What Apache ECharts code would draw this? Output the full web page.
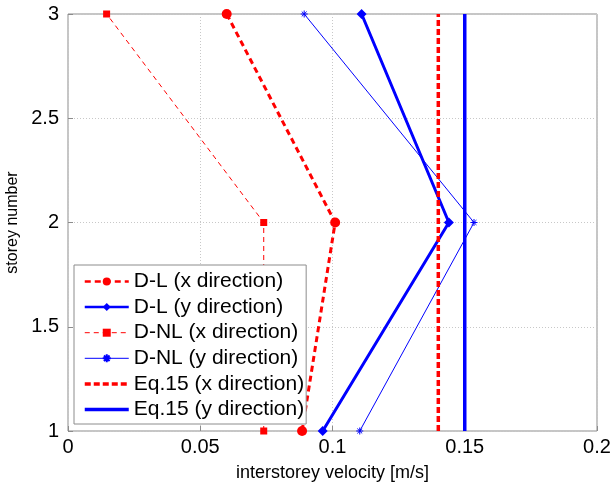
<!DOCTYPE html>
<html>
<head>
<meta charset="utf-8">
<script src="https://cdn.jsdelivr.net/npm/echarts@6/dist/echarts.min.js"></script>
<style>
  html, body { margin: 0; padding: 0; background: #fff; }
  #main { width: 614px; height: 482px; }
</style>
</head>
<body>
<div id="main"></div>
<script>
// storey levels and velocities
var storeys = [1, 2, 3]
var dlX = [0.0885, 0.101, 0.060]
var dlY = [0.0963, 0.144, 0.111]
var dnlX = [0.074, 0.074, 0.0146]
var dnlY = [0.1103, 0.1535, 0.0893]
var eqX = [0.14, 0.14, 0.14]
var eqY = [0.15, 0.15, 0.15]

var RED = '#ff0000'
var BLUE = '#0000ff'
var FONT = 'Liberation Sans'
var asterisk = 'path://M0 5L10 5M5 0L5 10M1.5 1.5L8.5 8.5M8.5 1.5L1.5 8.5'

function pts(xs){
  return xs.map(function(v, i){ return [v, storeys[i]] })
}

function mk(name, xs, color, width, dash, symbol, size){
  var s = {
    name: name,
    type: 'line',
    data: pts(xs),
    lineStyle: { color: color, width: width, type: dash },
    itemStyle: { color: color },
    symbol: symbol || 'none',
    symbolSize: size || 0,
    showSymbol: !!symbol,
    animation: false,
    z: 3
  }
  if (symbol === asterisk) {
    s.itemStyle = { color: 'none', borderColor: color, borderWidth: 1 }
  }
  if (!symbol) {
    // no marker: keep legend icon a plain line
    s.itemStyle = { color: 'rgba(0,0,0,0)', borderWidth: 0 }
  }
  return s
}

var chart = echarts.init(document.getElementById('main'), null, { renderer: 'canvas' })

var axisCommon = {
  axisLine: { show: false },
  axisTick: { show: true, inside: true, length: 5, lineStyle: { color: '#8c8c8c' } },
  splitLine: { show: true, lineStyle: { color: '#c8c8c8', type: [1, 2] } }
}

var option = {
  animation: false,
  grid: {
    left: 68, right: 17, top: 14, bottom: 51,
    outerBoundsMode: 'none',
    containLabel: false,
    show: true, borderColor: '#8c8c8c', borderWidth: 1
  },
  xAxis: Object.assign({
    type: 'value', min: 0, max: 0.2, interval: 0.05,
    name: 'interstorey velocity [m/s]',
    nameLocation: 'middle', nameGap: 33,
    nameTextStyle: { fontFamily: FONT, fontSize: 18, color: '#000' },
    axisLabel: { fontFamily: FONT, fontSize: 20, color: '#000', margin: 6 }
  }, axisCommon),
  yAxis: Object.assign({
    type: 'value', min: 1, max: 3, interval: 0.5,
    name: 'storey number',
    nameLocation: 'middle', nameGap: 46, nameRotate: 90,
    nameTextStyle: { fontFamily: FONT, fontSize: 16, color: '#000' },
    axisLabel: { fontFamily: FONT, fontSize: 20, color: '#000', margin: 9 }
  }, axisCommon),
  legend: {
    orient: 'vertical',
    left: 74, top: 265,
    padding: [6, 2, 4, 9],
    itemWidth: 44, itemHeight: 10, itemGap: 4.6,
    backgroundColor: '#fff',
    borderColor: '#8c8c8c', borderWidth: 1, borderRadius: 0,
    textStyle: { fontFamily: FONT, fontSize: 21, color: '#000' },
    data: [
      { name: 'D-L (x direction)', lineStyle: { width: 2.5 } },
      { name: 'D-L (y direction)', lineStyle: { width: 2.5 } },
      { name: 'D-NL (x direction)', lineStyle: { width: 1 } },
      { name: 'D-NL (y direction)', lineStyle: { width: 1 } },
      { name: 'Eq.15 (x direction)', lineStyle: { width: 3.5 } },
      { name: 'Eq.15 (y direction)', lineStyle: { width: 3.5 } }
    ]
  },
  series: [
    mk('D-L (x direction)', dlX, RED, 3, [6, 4], 'circle', 10),
    mk('D-L (y direction)', dlY, BLUE, 3, 'solid', 'diamond', 10),
    mk('D-NL (x direction)', dnlX, RED, 1, [5, 4], 'rect', 7),
    mk('D-NL (y direction)', dnlY, BLUE, 1, 'solid', asterisk, 7),
    mk('Eq.15 (x direction)', eqX, RED, 3.5, [6, 3], null, 0),
    mk('Eq.15 (y direction)', eqY, BLUE, 3.5, 'solid', null, 0)
  ]
}

chart.setOption(option)
</script>
</body>
</html>
